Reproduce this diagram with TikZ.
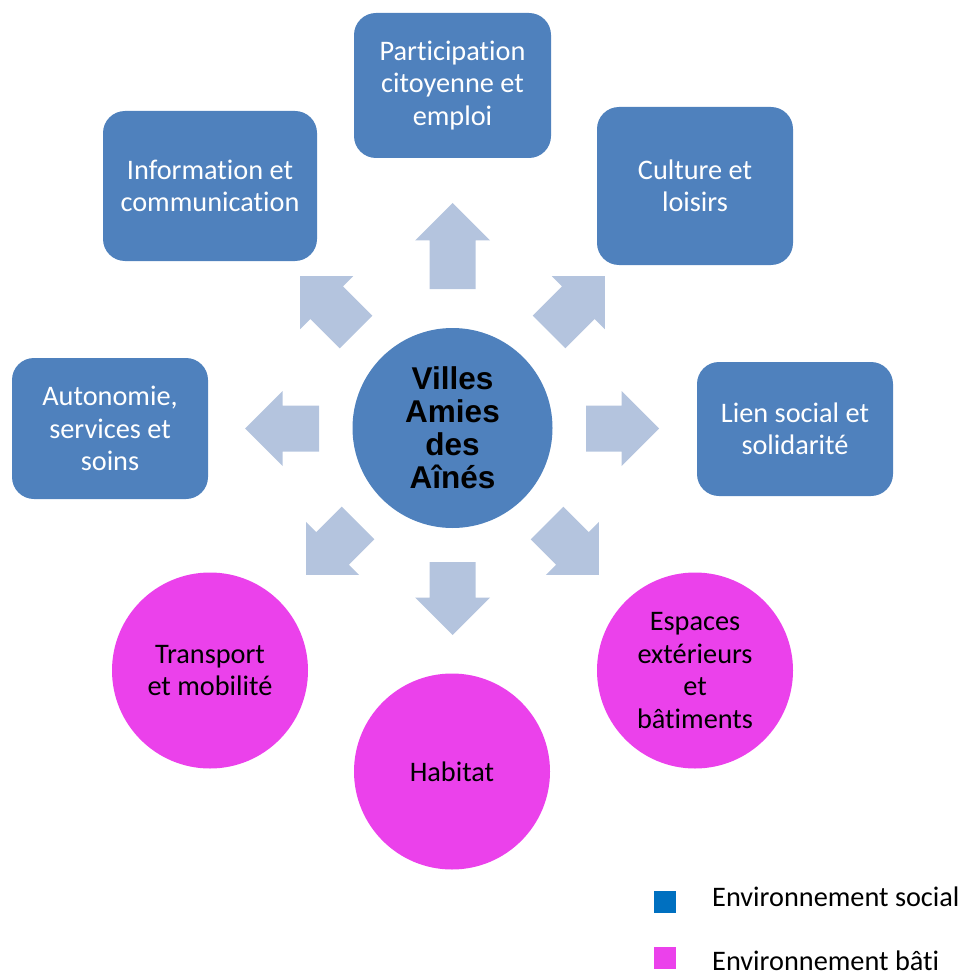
\documentclass[tikz,border=0pt]{standalone}
\usepackage{fontspec}
\setmainfont{Carlito}[Ligatures=NoCommon]
\newfontfamily\arialfont{Liberation Sans}
\definecolor{boxblue}{RGB}{79,129,189}
\definecolor{arrowblue}{RGB}{180,196,222}
\definecolor{pinkfill}{RGB}{235,65,235}
\definecolor{legblue}{RGB}{0,112,192}
\newcommand\blockarrow[4]{%
  \fill[arrowfill, shift={(#1,#2)}, rotate=#3]
    (0,-23) -- ({#4-37.5},-23) -- ({#4-37.5},-37.5) -- (#4,0)
    -- ({#4-37.5},37.5) -- ({#4-37.5},23) -- (0,23) -- cycle;}
\begin{document}
\begin{tikzpicture}[x=1pt,y=-1pt,
  socialbox/.style={rectangle, rounded corners=22pt, fill=boxblue, text=white,
    align=center, inner sep=0pt, font=\fontsize{28.3}{32.5}\selectfont},
  builtcircle/.style={circle, fill=pinkfill, text=black, align=center,
    inner sep=0pt, minimum size=196pt, font=\fontsize{28.3}{32.5}\selectfont},
  centercircle/.style={circle, fill=boxblue, text=black, align=center,
    inner sep=0pt, minimum size=200pt,
    font=\arialfont\bfseries\fontsize{31.5}{33}\selectfont},
  arrowfill/.style={fill=arrowblue},
  legsquare/.style={rectangle, inner sep=0pt, minimum size=22pt},
  legtext/.style={anchor=base west, inner sep=0pt, text=black,
    font=\fontsize{28.3}{32.5}\selectfont}]
\useasboundingbox (0,0) rectangle (973,976);
% block arrows
\blockarrow{452.5}{289}{90}{86}
\blockarrow{452.5}{562}{-90}{73}
\blockarrow{319}{428.5}{180}{74}
\blockarrow{586}{428.5}{0}{73}
\blockarrow{356}{332}{135}{79}
\blockarrow{549}{332}{45}{79}
\blockarrow{358}{523}{225}{73.5}
\blockarrow{547}{523}{-45}{73.5}
% centre
\node[centercircle] (vada) at (452.5,428) {Villes\\Amies\\des\\Aînés};
% social environment boxes
\node[socialbox, minimum width=197pt, minimum height=145pt] (part) at (452.5,85.5) {Participation\\citoyenne et\\emploi};
\node[socialbox, minimum width=214pt, minimum height=150pt] (info) at (210,186) {Information et\\communication};
\node[socialbox, minimum width=196pt, minimum height=158pt] (cult) at (695,186) {Culture et\\loisirs};
\node[socialbox, minimum width=196pt, minimum height=141pt] (auto) at (110,428.5) {Autonomie,\\services et\\soins};
\node[socialbox, minimum width=196pt, minimum height=134pt] (lien) at (795,429) {Lien social et\\solidarité};
% built environment circles
\node[builtcircle] (trans) at (210,670.5) {Transport\\et mobilité};
\node[builtcircle] (habit) at (452,771.5) {Habitat};
\node[builtcircle] (espac) at (695,670.5) {Espaces\\extérieurs\\et\\bâtiments};
% legend
\node[legsquare, fill=legblue] (lsoc) at (664.5,901.5) {};
\node[legsquare, fill=pinkfill] (lbat) at (664.5,957.5) {};
\node[legtext] (tsoc) at (712,906.5) {Environnement social};
\node[legtext] (tbat) at (712,970) {Environnement bâti};
\end{tikzpicture}
\end{document}
